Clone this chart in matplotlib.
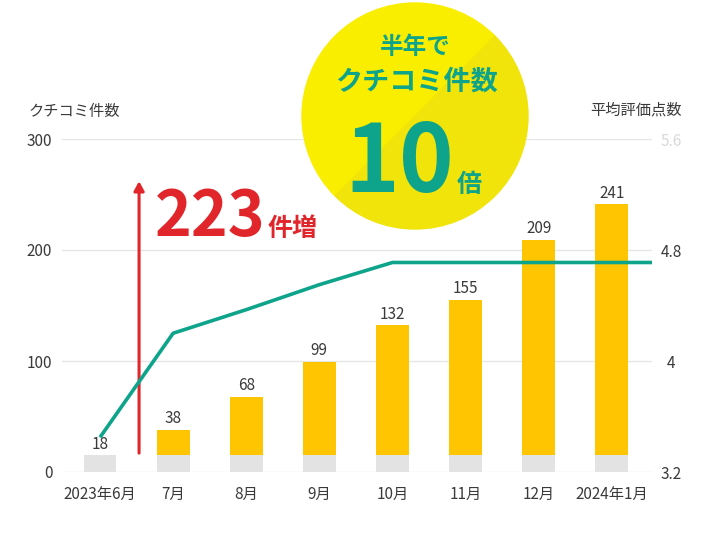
import matplotlib
matplotlib.use("Agg")
import matplotlib.pyplot as plt
from matplotlib.patches import Wedge
from matplotlib.transforms import IdentityTransform
import numpy as np

plt.rcParams['font.family'] = ['Noto Sans CJK JP', 'DejaVu Sans']

months = ["2023年6月", "7月", "8月", "9月", "10月", "11月", "12月", "2024年1月"]
counts = [18, 38, 68, 99, 132, 155, 209, 241]
ratings = [3.45, 4.2, 4.37, 4.55, 4.71, 4.71, 4.71, 4.71]
base = 15          # grey part at the foot of every bar
increase = 223

left_ticks = [0, 100, 200, 300]
right_ticks = [3.2, 4.0, 4.8, 5.6]
right_labels = ["3.2", "4", "4.8", "5.6"]

YELLOW = "#FFC600"
GREY = "#E3E3E3"
TEAL = "#0DA48B"
RED = "#E1262B"
TEXT = "#3A3A3A"

W, H = 720, 547
fig = plt.figure(figsize=(W / 100, H / 100), dpi=100)
ax = fig.add_axes([62 / W, 75 / H, 590 / W, 333 / H])
ax2 = ax.twinx()

x = np.arange(len(months))
ax.bar(x, base, width=0.45, color=GREY, zorder=2)
ax.bar(x[1:], np.array(counts[1:]) - base, bottom=base, width=0.45,
       color=YELLOW, zorder=2)

for i, c in enumerate(counts):
    top = base if i == 0 else c
    ax.annotate(str(c), (x[i], top), xytext=(0, 2), textcoords="offset points",
                ha="center", va="bottom", fontsize=11, color=TEXT)

ax.set_xlim(-0.52, 7.55)
ax.set_ylim(0, 300)
ax.set_yticks(left_ticks)
ax.grid(axis="y", color="#E6E6E6", linewidth=1, zorder=0)
ax.set_axisbelow(True)
ax.set_xticks(x)
ax.set_xticklabels(months)
ax.tick_params(axis="x", length=0, pad=10, labelsize=11, colors=TEXT)
ax.tick_params(axis="y", length=0, pad=7, labelsize=11, colors=TEXT)

# rating line runs on to the right edge of the plot
lx = list(x) + [ax.get_xlim()[1]]
ly = ratings + [ratings[-1]]
ax2.plot(lx, ly, color=TEAL, linewidth=2.6, solid_capstyle="butt", zorder=3)
ax2.set_ylim(3.2, 5.6)
ax2.set_yticks(right_ticks)
ax2.set_yticklabels(right_labels)
ax2.tick_params(axis="y", length=0, pad=14, labelsize=11, colors=TEXT)
for lab in ax2.get_yticklabels():
    lab.set_horizontalalignment("center")
ax2.get_yticklabels()[-1].set_color("#D9D9D9")

for a in (ax, ax2):
    for s in a.spines.values():
        s.set_visible(False)

fig.text(28 / W, 1 - 111 / H, "クチコミ件数", fontsize=11, color=TEXT,
         ha="left", va="center")
fig.text(636 / W, 1 - 110 / H, "平均評価点数", fontsize=11, color=TEXT,
         ha="center", va="center")

# red arrow with the increase
ax.annotate("", xy=(0.534, 262), xytext=(0.534, 17),
            arrowprops=dict(arrowstyle="-|>,head_length=0.55,head_width=0.3",
                            color=RED, lw=2.2, shrinkA=0, shrinkB=0), zorder=4)
fig.text(155 / W, 1 - 236 / H, str(increase), fontsize=45, fontweight="bold",
         color=RED, ha="left", va="baseline")
fig.text(268 / W, 1 - 236 / H, "件増", fontsize=18, fontweight="bold",
         color=RED, ha="left", va="baseline")

# yellow badge
cx, cy, r = 415, H - 116, 113
fig.add_artist(Wedge((cx, cy), r, 45, 225, color="#FAEE00",
                     transform=IdentityTransform(), zorder=5))
fig.add_artist(Wedge((cx, cy), r, 225, 405, color="#F1E40A",
                     transform=IdentityTransform(), zorder=5))

fig.text(415 / W, 1 - 47 / H, "半年で", fontsize=17, fontweight="bold",
         color=TEAL, ha="center", va="center", zorder=6)
fig.text(416 / W, 1 - 82 / H, "クチコミ件数", fontsize=19.5, fontweight="bold",
         color=TEAL, ha="center", va="center", zorder=6)
fig.text(399 / W, 1 - 192 / H, "10", fontsize=67, fontweight="bold",
         color=TEAL, ha="center", va="baseline", zorder=6)
fig.text(457 / W, 1 - 192 / H, "倍", fontsize=18, fontweight="bold",
         color=TEAL, ha="left", va="baseline", zorder=6)

fig.savefig("out.png", dpi=100)
